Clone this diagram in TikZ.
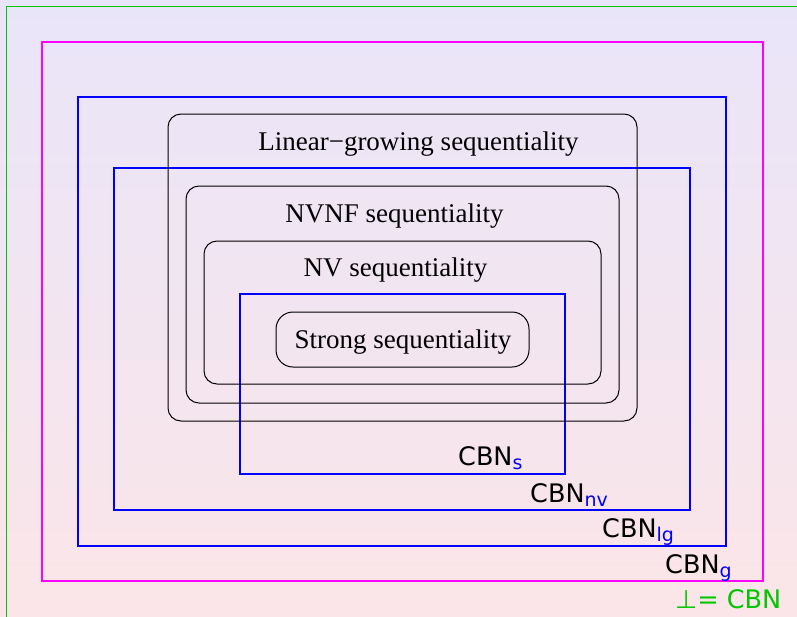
\documentclass[tikz,border=0pt]{standalone}
\usepackage{fontspec}
\setmainfont{Liberation Serif}
\newfontfamily\labfont{DejaVu Sans}
\definecolor{bgtop}{RGB}{233,229,249}
\definecolor{bgbot}{RGB}{251,229,232}
\definecolor{cbngreen}{RGB}{0,200,0}
\definecolor{cbnmag}{RGB}{255,0,255}
\definecolor{cbnblue}{RGB}{0,0,255}
\tikzset{
  seqbox/.style={draw=black, line width=1pt, rounded corners=13pt},
  cbnbox/.style={draw=cbnblue, line width=1.4pt},
  seqtext/.style={anchor=base, inner sep=0pt, font=\fontsize{27}{32}\selectfont},
  cbntext/.style={anchor=base west, inner sep=0pt, font=\labfont\fontsize{25.5}{30}\selectfont},
}
\newcommand{\cbnsub}[1]{CBN\raisebox{-4.5pt}{\fontsize{19}{20}\selectfont\textcolor{cbnblue}{#1}}}
\begin{document}
\begin{tikzpicture}[x=1pt,y=-1pt]
\useasboundingbox (0,0) rectangle (797,616);
\shade[top color=bgtop, bottom color=bgbot] (0,0) rectangle (797,616);
\draw[cbngreen, line width=1pt] (6,6) rectangle (805,625);
\draw[cbnmag, line width=1.6pt] (42,42) rectangle (763,581);
\draw[cbnbox] (78,97) rectangle (726,546);
\draw[cbnbox] (114,168) rectangle (690,510);
\draw[cbnbox] (240,294) rectangle (565,474);
\draw[seqbox] (168,114) rectangle (637,421);
\draw[seqbox] (186,186) rectangle (619,403);
\draw[seqbox] (204,241) rectangle (601,384);
\draw[seqbox, rounded corners=17pt] (276,312) rectangle (529,367);
\node[seqtext] (lg) at (418.5,150) {Linear−growing sequentiality};
\node[seqtext] (nvnf) at (394.5,222) {NVNF sequentiality};
\node[seqtext] (nv) at (395.5,276) {NV sequentiality};
\node[seqtext] (ss) at (403,348) {Strong sequentiality};
\node[cbntext] (cs) at (458,465) {\cbnsub{s}};
\node[cbntext] (cnv) at (530,502) {\cbnsub{nv}};
\node[cbntext] (clg) at (602,537) {\cbnsub{lg}};
\node[cbntext] (cg) at (665,573) {\cbnsub{g}};
\node[cbntext, text=cbngreen] (cbn) at (675,608) {⊥= CBN};
\end{tikzpicture}
\end{document}
